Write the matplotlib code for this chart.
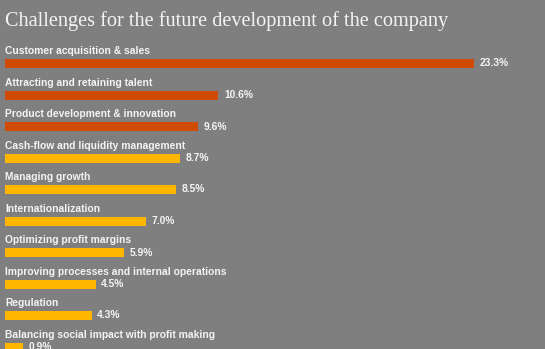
import matplotlib.pyplot as plt

# Survey: challenges for the future development of the company
categories = [
    "Customer acquisition & sales",
    "Attracting and retaining talent",
    "Product development & innovation",
    "Cash-flow and liquidity management",
    "Managing growth",
    "Internationalization",
    "Optimizing profit margins",
    "Improving processes and internal operations",
    "Regulation",
    "Balancing social impact with profit making",
]
values = [23.3, 10.6, 9.6, 8.7, 8.5, 7.0, 5.9, 4.5, 4.3, 0.9]
top_n = 3  # first three highlighted in dark orange

bg = "#7f7f7f"
red = "#d04a02"
yellow = "#ffb600"
txt = "#f4f4f4"

W, H = 545, 349
fig = plt.figure(figsize=(W / 100, H / 100), dpi=100, facecolor=bg)

# axes spans full height; row i centred at 63.5 + 31.5*i px from top
left_px, right_px = 5, 474
ax = fig.add_axes([left_px / W, 0, (right_px - left_px) / W, 1])
ax.set_facecolor(bg)
row_h, first = 31.5, 63.5
ax.set_ylim((H - first) / row_h, -first / row_h)
ax.set_xlim(0, max(values))
ax.axis("off")

colors = [red if i < top_n else yellow for i in range(len(values))]
pos = list(range(len(values)))
bars = ax.barh(pos, values, height=9 / row_h, color=colors)

for i, (cat, v) in enumerate(zip(categories, values)):
    ax.text(0, i - 9.3 / row_h, cat, color=txt, fontsize=7.4, fontweight="bold",
            family="Liberation Sans", va="baseline", ha="left")
    ax.annotate(f"{v:.1f}%", (v, i), xytext=(4, 0), textcoords="offset points",
                color=txt, fontsize=7.4, fontweight="bold", family="Liberation Sans",
                va="center", ha="left", annotation_clip=False)

fig.text(5 / W, 1 - 26 / H, "Challenges for the future development of the company",
         color=txt, fontsize=14.6, family="Liberation Serif", va="baseline", ha="left")

fig.savefig("out.png", dpi=100, facecolor=bg)
